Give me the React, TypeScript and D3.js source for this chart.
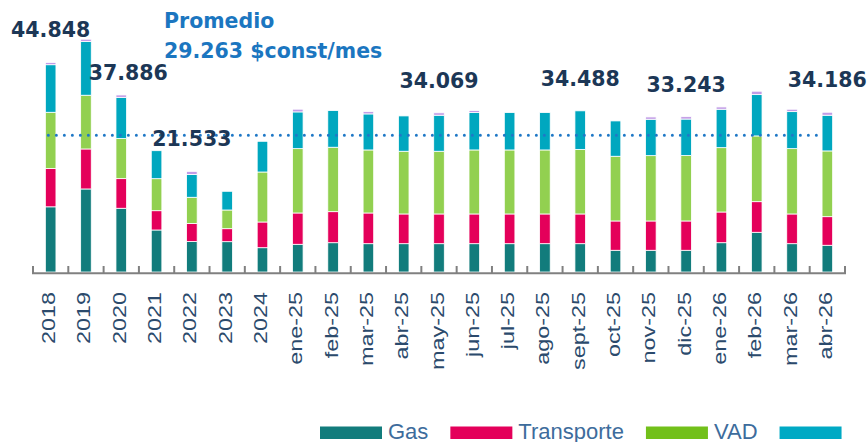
import React, { useEffect, useRef } from 'react';
import * as d3 from 'd3';

const categories = ['2018','2019','2020','2021','2022','2023','2024','ene-25','feb-25','mar-25','abr-25','may-25','jun-25','jul-25','ago-25','sept-25','oct-25','nov-25','dic-25','ene-26','feb-26','mar-26','abr-26'];
const gas = [13950,17770,13640,8990,6520,6490,5200,5930,6270,6060,6060,6060,6060,6060,6060,6060,4650,4650,4650,6270,8500,6060,5720];
const transporte = [8200,8560,6340,4130,3870,2780,5500,6700,6640,6570,6360,6360,6360,6360,6360,6360,6270,6270,6270,6570,6550,6360,6120];
const vad = [12030,11500,8570,6850,5600,4000,10700,13770,13790,13490,13420,13420,13700,13700,13700,13820,13850,13980,13990,13770,14070,13980,14070];
const comercializacion = [10180,11480,8830,5990,4900,4000,6570,7860,7840,7710,7560,7710,7990,7990,7990,8248,7560,7790,7820,8220,8840,7920,7640];
const otros = [488,510,506,0,643,0,0,580,0,490,0,519,430,0,0,0,0,490,513,490,730,510,636];
const seriesNames = ['Gas','Transporte','VAD','Comercialización','Otros'];
const labeledIndexes = [0,2,4,11,15,18,22];
const promedio = 29263;
const promedioTitle = 'Promedio';
const promedioUnit = '$const/mes';

const barColors = ['#127c7c','#e4005a','#92d050','#00a7bf','#c29ce6'];
const legendColors = ['#127c7c','#e4005a','#72c01a','#00a9c4'];

export default function App() {
  const ref = useRef<SVGSVGElement>(null);

  useEffect(() => {
    const svg = d3.select(ref.current);
    svg.selectAll('*').remove();

    const W = 868, H = 442;
    const baseY = 272;
    const x = d3.scaleBand<string>().domain(categories).range([33, 845]).paddingInner(0.7).paddingOuter(0.35);
    const y = d3.scaleLinear().domain([0, 50000]).range([baseY, baseY - 50000 / 214]);

    const rows = categories.map((c, i) => ({
      cat: c,
      Gas: gas[i], Transporte: transporte[i], VAD: vad[i],
      'Comercialización': comercializacion[i], Otros: otros[i],
    }));
    const stack = d3.stack<any>().keys(seriesNames)(rows);

    const loc = d3.formatLocale({ decimal: ',', thousands: '.', grouping: [3], currency: ['$', ''] });
    const fmt = loc.format(',d');

    // bars
    const g = svg.append('g');
    stack.forEach((layer, li) => {
      g.append('g').selectAll('rect').data(layer).join('rect')
        .attr('x', (d: any) => x(d.data.cat)!)
        .attr('width', x.bandwidth())
        .attr('y', (d: any) => y(d[1]))
        .attr('height', (d: any) => Math.max(0, y(d[0]) - y(d[1])))
        .attr('fill', barColors[li])
        .attr('stroke', (d: any) => (d[1] - d[0] > 0 ? '#ffffff' : 'none'))
        .attr('stroke-width', 0.8);
    });

    // axis
    const step = x.step();
    const axisG = svg.append('g');
    axisG.append('line')
      .attr('x1', 32).attr('x2', 846).attr('y1', baseY + 1.3).attr('y2', baseY + 1.3)
      .attr('stroke', '#808080').attr('stroke-width', 2);
    const tickXs = d3.range(categories.length + 1).map(k => 33 + k * step);
    axisG.selectAll('line.tick').data(tickXs).join('line').attr('class', 'tick')
      .attr('x1', d => d).attr('x2', d => d).attr('y1', baseY - 6).attr('y2', baseY + 2)
      .attr('stroke', '#808080').attr('stroke-width', 2);

    // x labels
    svg.append('g').selectAll('text').data(categories).join('text')
      .attr('transform', d => `translate(${x(d)! + x.bandwidth() / 2 + 4.5},${baseY + 20}) rotate(-90) scale(1.3,1)`)
      .attr('text-anchor', 'end')
      .attr('font-family', '"Liberation Sans", Arial, sans-serif')
      .attr('font-size', 18)
      .attr('fill', '#2b4a6c')
      .text(d => d);

    // average dotted line
    svg.append('line')
      .attr('x1', x(categories[0])! + 3)
      .attr('x2', x(categories[categories.length - 1])! - 1)
      .attr('y1', y(promedio)).attr('y2', y(promedio))
      .attr('stroke', '#1f78c6').attr('stroke-width', 3)
      .attr('stroke-linecap', 'round').attr('stroke-dasharray', '0 8');

    // value labels
    const nudge: Record<number, [number, number]> = { 2: [7, 10] };
    svg.append('g').selectAll('text').data(labeledIndexes).join('text')
      .attr('x', i => x(categories[i])! + x.bandwidth() / 2 + (nudge[i] ? nudge[i][0] : 0))
      .attr('y', i => {
        const tot = gas[i] + transporte[i] + vad[i] + comercializacion[i] + otros[i];
        return y(tot) - 25 + (nudge[i] ? nudge[i][1] : 0);
      })
      .attr('text-anchor', 'middle')
      .attr('font-family', '"DejaVu Sans", Verdana, sans-serif')
      .attr('font-weight', 'bold')
      .attr('font-size', 20.5)
      .attr('fill', '#1c3756')
      .text(i => fmt(gas[i] + transporte[i] + vad[i] + comercializacion[i] + otros[i]));

    // promedio title
    const t = svg.append('text')
      .attr('font-family', '"DejaVu Sans", Verdana, sans-serif')
      .attr('font-weight', 'bold').attr('font-size', 20.5).attr('fill', '#1b76c0');
    t.append('tspan').attr('x', 164).attr('y', 27.5).text(promedioTitle);
    t.append('tspan').attr('x', 164).attr('y', 57.5).text(`${fmt(promedio)} ${promedioUnit}`);

    // legend
    const lg = svg.append('g');
    let cx = 320;
    legendColors.forEach((col, i) => {
      lg.append('rect').attr('x', cx).attr('y', 426.5).attr('width', 62).attr('height', 12.5).attr('fill', col);
      if (i < 3) {
        const tx = lg.append('text').attr('x', cx + 68).attr('y', 438.5)
          .attr('font-family', '"Liberation Sans", Arial, sans-serif')
          .attr('font-size', 22).attr('fill', '#3d6c9c').text(seriesNames[i]);
        const len = (tx.node() as SVGTextElement).getComputedTextLength();
        cx = cx + 68 + len + 22;
      }
    });
  }, []);

  return (
    <svg ref={ref} width={868} height={442}
      style={{ position: 'absolute', left: 0, top: 0, display: 'block', background: '#ffffff', overflow: 'hidden' }} />
  );
}
